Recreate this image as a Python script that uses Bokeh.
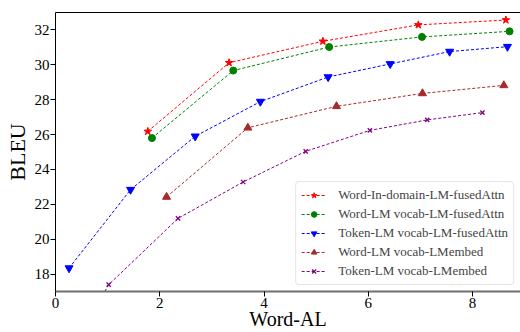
from bokeh.plotting import figure
from bokeh.models import Range1d, LinearAxis, FixedTicker, Legend, LegendItem
from bokeh.embed import file_html
from bokeh.resources import INLINE

# Data
red_x = [1.77, 3.33, 5.13, 6.96, 8.64]
red_y = [26.18, 30.12, 31.35, 32.29, 32.57]
green_x = [1.85, 3.41, 5.25, 7.03, 8.71]
green_y = [25.80, 29.67, 31.02, 31.60, 31.92]
blue_x = [0.26, 1.44, 2.68, 3.93, 5.23, 6.42, 7.56, 8.67]
blue_y = [18.34, 22.84, 25.90, 27.89, 29.30, 30.05, 30.76, 31.04]
brown_x = [2.13, 3.69, 5.39, 7.04, 8.60]
brown_y = [22.42, 26.39, 27.62, 28.36, 28.82]
purple_x = [0.85, 1.02, 2.35, 3.60, 4.80, 6.03, 7.13, 8.19]
purple_y = [16.50, 17.39, 21.19, 23.28, 25.04, 26.24, 26.84, 27.26]

labels = [
    "Word-In-domain-LM-fusedAttn",
    "Word-LM vocab-LM-fusedAttn",
    "Token-LM vocab-LM-fusedAttn",
    "Word-LM vocab-LMembed",
    "Token-LM vocab-LMembed",
]
x_ticks = [0, 2, 4, 6, 8]
y_ticks = [18, 20, 22, 24, 26, 28, 30, 32]

FONT = "Liberation Serif"

p = figure(width=520, height=332, output_backend="svg", toolbar_location=None,
           x_range=Range1d(0, 8.92), y_range=Range1d(17, 33),
           min_border_left=55, min_border_right=0, min_border_top=12, min_border_bottom=41)
p.xgrid.visible = False
p.ygrid.visible = False
p.outline_line_color = None
p.background_fill_color = "white"
p.border_fill_color = "white"

p.xaxis.ticker = FixedTicker(ticks=x_ticks)
p.yaxis.ticker = FixedTicker(ticks=y_ticks)
p.xaxis.axis_label = "Word-AL"
p.yaxis.axis_label = "BLEU"
for ax in (p.xaxis[0], p.yaxis[0]):
    ax.major_label_text_font = FONT
    ax.major_label_text_font_size = "15px"
    ax.major_label_text_color = "black"
    ax.axis_label_text_font = FONT
    ax.axis_label_text_font_style = "normal"
    ax.axis_label_text_color = "black"
    ax.minor_tick_line_color = None
    ax.major_tick_line_color = "black"
    ax.major_tick_out = 5
    ax.major_tick_in = 0
    ax.major_label_standoff = 1
ax = p.xaxis[0]
ax.axis_line_color = "#707070"
ax.axis_line_width = 2
ax.axis_label_text_font_size = "20px"
ax.axis_label_standoff = -3
ay = p.yaxis[0]
ay.axis_line_color = "black"
ay.axis_line_width = 1
ay.axis_label_text_font_size = "22px"
ay.axis_label_standoff = 2

top = LinearAxis(ticker=FixedTicker(ticks=[]), axis_line_color="black",
                 major_tick_line_color=None, minor_tick_line_color=None,
                 major_label_text_font_size="0px")
p.add_layout(top, "above")

dash = "3 2"
r1 = p.line(red_x, red_y, line_color="red", line_dash=dash, line_width=1)
m1 = p.scatter(red_x, red_y, marker="star", size=8, color="red")
r2 = p.line(green_x, green_y, line_color="green", line_dash=dash, line_width=1)
m2 = p.scatter(green_x, green_y, marker="circle", size=7, color="green")
r3 = p.line(blue_x, blue_y, line_color="blue", line_dash=dash, line_width=1)
m3 = p.scatter(blue_x, blue_y, marker="inverted_triangle", size=8, color="blue")
r4 = p.line(brown_x, brown_y, line_color="brown", line_dash=dash, line_width=1)
m4 = p.scatter(brown_x, brown_y, marker="triangle", size=8, color="brown")
r5 = p.line(purple_x, purple_y, line_color="purple", line_dash=dash, line_width=1)
m5 = p.scatter(purple_x[1:], purple_y[1:], marker="x", size=6, line_color="purple", line_width=1.3)

items = [LegendItem(label=labels[i], renderers=[r, m]) for i, (r, m) in
         enumerate([(r1, m1), (r2, m2), (r3, m3), (r4, m4), (r5, m5)])]
legend = Legend(items=items, location="bottom_right", margin=6,
                label_text_font=FONT, label_text_font_size="13px",
                label_height=14, glyph_height=14, glyph_width=25, spacing=3,
                padding=5, label_standoff=12,
                border_line_color="#cccccc", border_line_width=1,
                background_fill_alpha=0.8, border_radius=4)
p.add_layout(legend)

open("out.html", "w").write(file_html(p, INLINE))
